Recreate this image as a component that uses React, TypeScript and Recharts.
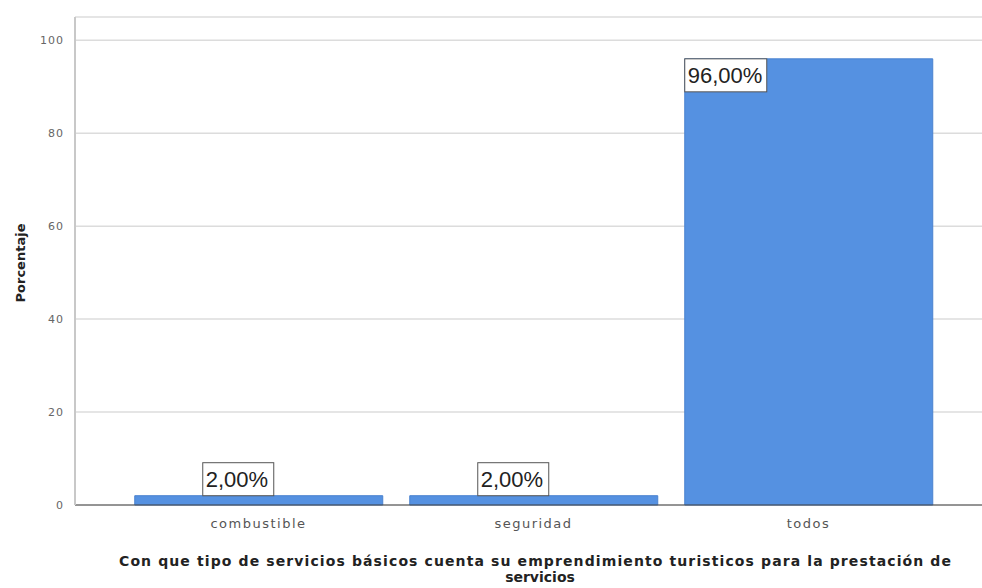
import React from 'react';
import { BarChart, Bar, XAxis, YAxis, CartesianGrid, LabelList, Label } from 'recharts';

const categories = ['combustible', 'seguridad', 'todos'];
const percentages = [2, 2, 96];
const valueLabels = ['2,00%', '2,00%', '96,00%'];
const yTicks = [0, 20, 40, 60, 80, 100];

const data = categories.map((c, i) => ({ name: c, value: percentages[i], label: valueLabels[i] }));

const ARIAL = '"Liberation Sans", Arial, sans-serif';
const WIDE = '"DejaVu Sans", Verdana, sans-serif';

// value box: above the bar when short, inside top-left when tall
const ValueBox = (props: any) => {
  const { x, y, width, index } = props;
  const text = valueLabels[index];
  const w = text.length * 11 + 16;
  const h = 33;
  const big = percentages[index] > 50;
  const bx = big ? x : x + width / 2 - 56;
  const by = big ? y : y - h;
  return (
    <g>
      <rect x={bx} y={by} width={w} height={h} fill="#fff" stroke="#555" strokeWidth={1} />
      <text x={bx + 3} y={by + 24} fontSize={22} fontFamily={ARIAL} fill="#222">
        {text}
      </text>
    </g>
  );
};

const XTitle = (props: any) => {
  const { viewBox } = props;
  const cx = 535;
  const y0 = viewBox.y + 61;
  return (
    <text textAnchor="middle" fontSize={14} fontWeight="bold" fontFamily={WIDE} fill="#222">
      <tspan x={cx} y={y0} textLength={832} lengthAdjust="spacing">
        Con que tipo de servicios básicos cuenta su emprendimiento turisticos para la prestación de
      </tspan>
      <tspan x={540} y={y0 + 16}>servicios</tspan>
    </text>
  );
};

const YTitle = () => (
  <text
    x={25}
    y={263}
    transform="rotate(-90 25 263)"
    textAnchor="middle"
    fontSize={13}
    fontWeight="bold"
    fontFamily={WIDE}
    fill="#222"
  >
    Porcentaje
  </text>
);

export default function App() {
  return (
    <div style={{ position: 'absolute', left: 0, top: 0, background: '#fff' }}>
      <BarChart
        width={982}
        height={588}
        data={data}
        margin={{ top: 17, right: 0, bottom: 53, left: 30 }}
        barCategoryGap="5%"
      >
        <CartesianGrid horizontal vertical={false} stroke="#dcdcdc" strokeWidth={1.5} />
        <XAxis
          dataKey="name"
          height={30}
          padding={{ left: 46, right: 36 }}
          tickLine={false}
          tickMargin={8}
          axisLine={{ stroke: '#444', strokeWidth: 1 }}
          tick={{ fontSize: 13, fill: '#555', fontFamily: WIDE, letterSpacing: 1.5 }}
        >
          <Label content={<XTitle />} />
        </XAxis>
        <YAxis
          width={45}
          domain={[0, 105]}
          ticks={yTicks}
          tickLine={false}
          axisLine={{ stroke: '#c8c8c8', strokeWidth: 2 }}
          tick={{ fontSize: 11, fill: '#666', fontFamily: WIDE, letterSpacing: 1 }}
          tickMargin={5}
        >
          <Label content={<YTitle />} />
        </YAxis>
        <Bar dataKey="value" fill="#5591e1" stroke="#4a82cf" strokeWidth={1} isAnimationActive={false}>
          <LabelList dataKey="label" content={<ValueBox />} />
        </Bar>
      </BarChart>
    </div>
  );
}
